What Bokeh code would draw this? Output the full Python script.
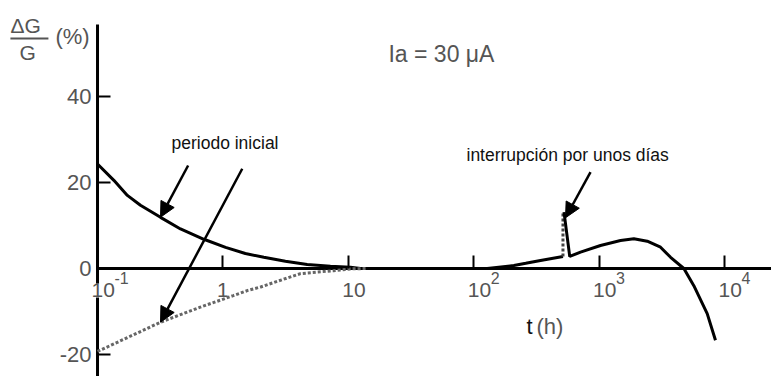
from bokeh.plotting import figure
from bokeh.models import (FixedTicker, CustomJSTickFormatter, Label, Arrow,
                          NormalHead, ColumnDataSource)
from bokeh.core.properties import value
from bokeh.embed import file_html
from bokeh.resources import INLINE

# --- data -------------------------------------------------------------
# initial period, solid branch (t in hours, dG/G in %)
t_init = [0.1, 0.135, 0.173, 0.22, 0.318, 0.459, 0.705, 1.05, 1.51, 2.12,
          3.15, 4.7, 7.2, 10.4, 12.5]
g_init = [24.3, 20.5, 17.0, 14.7, 11.9, 9.2, 6.8, 4.9, 3.5, 2.6,
          1.7, 0.93, 0.53, 0.3, 0.0]

# initial period, dotted branch
t_init_neg = [0.1, 0.318, 0.66, 1.21, 1.58, 2.0, 3.67, 4.15, 7.6, 10.4, 14.0]
g_init_neg = [-19.3, -12.5, -9.0, -6.3, -5.1, -4.3, -1.7, -1.2, -0.5, -0.1, 0.0]

# long-term drift before the interruption
t_before = [128, 209, 260, 341, 515]
g_before = [0.0, 0.7, 1.2, 1.86, 2.8]

# jump during the interruption
t_jump = [515, 515]
g_jump = [2.8, 13.1]

# long-term drift after the interruption
t_after = [525, 583, 711, 1026, 1482, 1893, 2420, 3090, 3715, 4742, 5692,
           7278, 8472]
g_after = [13.1, 2.8, 3.8, 5.35, 6.5, 6.9, 6.35, 4.95, 2.6, 0.0, -4.0,
           -10.5, -16.7]

# axis ticks
x_ticks = [0.1, 1, 10, 100, 1000, 10000]
x_tick_base = ["10", "1", "10", "10", "10", "10"]
x_tick_exp = ["-1", "", "", "2", "3", "4"]
y_ticks = [-20, 0, 20, 40]

# --- layout constants -------------------------------------------------
X_MIN, X_MAX = 0.01684, 23700      # visible time span (h)
Y_MIN, Y_MAX = -25.12, 62.33       # visible dG/G span (%)
X_ORIGIN = 0.1                     # where the vertical axis stands
Y_AXIS_TOP = 56.74                 # upper end of the vertical axis line

FONT = "Liberation Sans"
GREY = "#555555"

p = figure(width=771, height=376, x_axis_type="log",
           x_range=(X_MIN, X_MAX), y_range=(Y_MIN, Y_MAX),
           output_backend="svg", toolbar_location=None, min_border=0)
p.xgrid.visible = False
p.ygrid.visible = False
p.outline_line_color = None
p.background_fill_color = "white"
p.border_fill_color = "white"

# horizontal axis crossing at zero: ticks only, line and labels drawn below
xa = p.xaxis[0]
xa.fixed_location = 0
xa.ticker = FixedTicker(ticks=x_ticks, minor_ticks=[])
xa.formatter = CustomJSTickFormatter(code="return ''")
xa.axis_line_color = None
xa.major_tick_in = 13
xa.major_tick_out = 0
xa.major_tick_line_width = 2
xa.minor_tick_line_color = None

# vertical axis standing at t = 0.1 h
ya = p.yaxis[0]
ya.fixed_location = X_ORIGIN
ya.ticker = FixedTicker(ticks=y_ticks, minor_ticks=[])
ya.major_label_overrides = {-20: "-20"}
ya.axis_line_color = None
ya.major_tick_in = 13
ya.major_tick_out = 0
ya.major_tick_line_width = 2
ya.minor_tick_line_color = None
ya.major_label_standoff = 6
ya.major_label_text_font = FONT
ya.major_label_text_font_size = "22px"
ya.major_label_text_color = GREY

# axis lines
p.segment(x0=[X_ORIGIN, X_ORIGIN], y0=[0, Y_MIN], x1=[X_MAX, X_ORIGIN],
          y1=[0, Y_AXIS_TOP], line_color="black", line_width=3)

# tick labels with raised exponents
tick_src = ColumnDataSource(dict(x=x_ticks, y=[0] * len(x_ticks),
                                 base=x_tick_base, exp=x_tick_exp))
p.text(x="x", y="y", text="base", source=tick_src,
       text_font=value(FONT), text_font_size="21px", text_color=GREY,
       text_align="left", text_baseline="alphabetic",
       x_offset=-6, y_offset=22, background_fill_color="white")
p.text(x="x", y="y", text="exp", source=tick_src,
       text_font=value(FONT), text_font_size="16px", text_color=GREY,
       text_align="left", text_baseline="alphabetic",
       x_offset=17, y_offset=10)

# curves
p.line(t_init, g_init, line_color="black", line_width=3)
p.line(t_init_neg, g_init_neg, line_color="#666666", line_width=3,
       line_dash="3 2")
p.line(t_before, g_before, line_color="black", line_width=3)
p.line(t_jump, g_jump, line_color="#444444", line_width=3, line_dash="3 2")
p.line(t_after, g_after, line_color="black", line_width=3)

# arrows
def arrow(x0, y0, x1, y1):
    p.add_layout(Arrow(end=NormalHead(size=15, fill_color="black",
                                      line_color="black", line_width=1),
                       x_start=x0, y_start=y0, x_end=x1, y_end=y1,
                       line_color="black", line_width=2.5))

arrow(0.528, 23.95, 0.318, 11.93)
arrow(1.426, 23.2, 0.318, -12.49)
arrow(854, 22.4, 539.7, 11.8)

# texts
def label(x, y, text, size="22px", color=GREY):
    p.add_layout(Label(x=x, y=y, text=text, text_font=FONT,
                       text_font_size=size, text_color=color,
                       text_align="left", text_baseline="alphabetic"))

label(20.9, 50.0, "Ia = 30 μA", size="23px")
label(0.389, 29.3, "periodo inicial", size="17.5px", color="#111111")
label(87.6, 26.3, "interrupción por unos días", size="17.5px",
      color="#111111")
label(263.7, -13.6, "t", color="#111111")
label(316.8, -13.6, "(h)")

# vertical-axis title written as a fraction
label(0.0202, 56.5, "ΔG", size="21px")
label(0.0239, 50.2, "G", size="21px")
label(0.0462, 53.9, "(%)", size="22px")
p.add_layout(Arrow(start=None, end=None, x_start=0.0202, y_start=53.5,
                   x_end=0.0406, y_end=53.5, line_color=GREY, line_width=2))

open("out.html", "w").write(file_html(p, INLINE))
